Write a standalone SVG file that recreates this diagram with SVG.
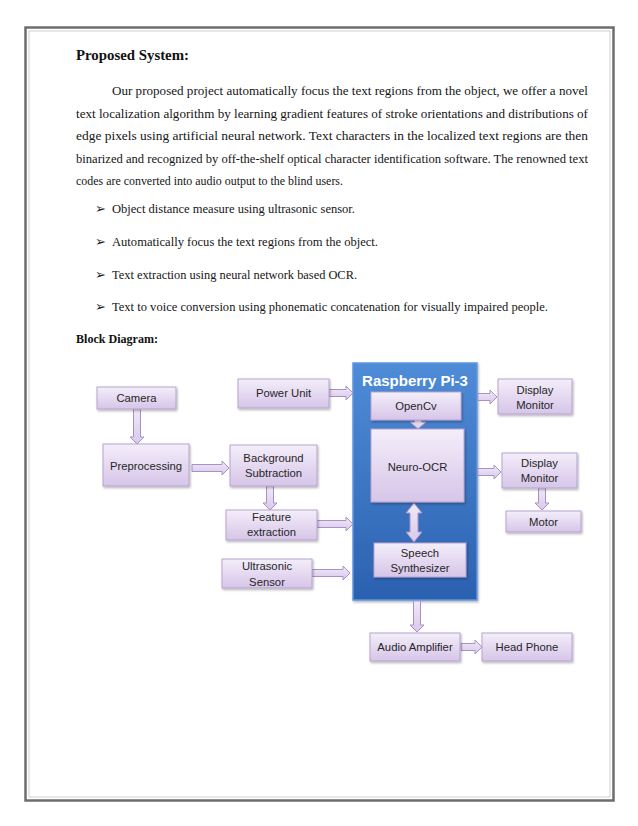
<svg xmlns="http://www.w3.org/2000/svg" width="638" height="826" viewBox="0 0 638 826">
<defs>
<linearGradient id="boxg" x1="0" y1="0" x2="0" y2="1"><stop offset="0" stop-color="#f4eefa"/><stop offset="1" stop-color="#d6c5e8"/></linearGradient>
<linearGradient id="arrg" x1="0" y1="0" x2="0" y2="1"><stop offset="0" stop-color="#f1e9f8"/><stop offset="1" stop-color="#d9c9ea"/></linearGradient>
<linearGradient id="pig" x1="0" y1="0" x2="0" y2="1"><stop offset="0" stop-color="#4f8cd8"/><stop offset="1" stop-color="#2b61b0"/></linearGradient>
<filter id="sh" x="-10%" y="-10%" width="130%" height="140%"><feDropShadow dx="1" dy="1.5" stdDeviation="1" flood-color="#000" flood-opacity="0.3"/></filter>
</defs>
<style>
.txt{font-family:"Liberation Serif","Times New Roman",serif;font-size:13px;fill:#151515}
.hd{font-family:"Liberation Serif","Times New Roman",serif;font-weight:bold;fill:#111}
.bul{font-family:"DejaVu Sans",sans-serif;font-size:13px;fill:#222}
.box{fill:url(#boxg);stroke:#b7a3d1;stroke-width:1;filter:url(#sh)}
.arr{fill:url(#arrg);stroke:#a891c8;stroke-width:1}
.lbl{font-family:"Liberation Sans",Arial,sans-serif;font-size:11.3px;fill:#262626;text-anchor:middle}
.pi{fill:url(#pig);stroke:#5f97de;stroke-width:1.5;filter:url(#sh)}
.pit{font-family:"Liberation Sans",Arial,sans-serif;font-size:15px;font-weight:bold;fill:#fff;text-anchor:middle}
</style>
<rect width="638" height="826" fill="#fff"/>
<rect x="25.5" y="27.5" width="588" height="773" fill="none" stroke="#6d6d6d" stroke-width="2.5"/>
<rect x="29" y="31" width="581" height="766" fill="none" stroke="#c4c4c4" stroke-width="0.8"/>

<g id="text">
<text class="hd" x="76" y="60" font-size="14.5" textLength="113" lengthAdjust="spacingAndGlyphs">Proposed System:</text>
<text class="txt" x="112" y="95" textLength="476" lengthAdjust="spacingAndGlyphs">Our proposed project automatically focus the text regions from the object, we offer a novel</text>
<text class="txt" x="76" y="118" textLength="512" lengthAdjust="spacingAndGlyphs">text localization algorithm by learning gradient features of stroke orientations and distributions of</text>
<text class="txt" x="76" y="140" textLength="512" lengthAdjust="spacingAndGlyphs">edge pixels using artificial neural network. Text characters in the localized text regions are then</text>
<text class="txt" x="76" y="163" textLength="512" lengthAdjust="spacingAndGlyphs">binarized and recognized by off-the-shelf optical character identification software. The renowned text</text>
<text class="txt" x="76" y="185" textLength="267" lengthAdjust="spacingAndGlyphs">codes are converted into audio output to the blind users.</text>
<text class="bul" x="95" y="213">➢</text>
<text class="txt" x="112" y="213" textLength="243" lengthAdjust="spacingAndGlyphs">Object distance measure using ultrasonic sensor.</text>
<text class="bul" x="95" y="246">➢</text>
<text class="txt" x="112" y="246" textLength="266" lengthAdjust="spacingAndGlyphs">Automatically focus the text regions from the object.</text>
<text class="bul" x="95" y="279">➢</text>
<text class="txt" x="112" y="279" textLength="245" lengthAdjust="spacingAndGlyphs">Text extraction using neural network based OCR.</text>
<text class="bul" x="95" y="311">➢</text>
<text class="txt" x="112" y="311" textLength="436" lengthAdjust="spacingAndGlyphs">Text to voice conversion using phonematic concatenation for visually impaired people.</text>
<text class="hd" x="76" y="343" font-size="13.5" textLength="82" lengthAdjust="spacingAndGlyphs">Block Diagram:</text>
</g>

<g id="raspberry-pi">
<rect class="pi" x="353" y="363" width="124" height="237"/>
<text class="pit" x="415" y="386">Raspberry Pi-3</text>
</g>

<g id="connectors">
<path class="arr" d="M329 389.5 H346 V386 L353 393 L346 400 V396.5 H329 Z"/>
<path class="arr" d="M133.5 409 V437 H130 L137 444 L144 437 H140.5 V409 Z"/>
<path class="arr" d="M192 464.5 H222 V461 L229 468 L222 475 V471.5 H192 Z"/>
<path class="arr" d="M266.5 486 V503 H263 L270 510 L277 503 H273.5 V486 Z"/>
<path class="arr" d="M317 520.5 H346 V517 L353 524 L346 531 V527.5 H317 Z"/>
<path class="arr" d="M312 569.5 H343 V566 L350 573 L343 580 V576.5 H312 Z"/>
<path class="arr" d="M414.5 420 V422 H410 L418 429 L426 422 H421.5 V420 Z"/>
<path class="arr" d="M414 503 L422 513 H418 V532 H422 L414 542 L406 532 H410 V513 H406 Z"/>
<path class="arr" d="M478 393.5 H490 V390 L497 397 L490 404 V400.5 H478 Z"/>
<path class="arr" d="M478 468.5 H494 V465 L501 472 L494 479 V475.5 H478 Z"/>
<path class="arr" d="M538.5 488 V503 H535 L542 510 L549 503 H545.5 V488 Z"/>
<path class="arr" d="M413.5 601 V625 H410 L417 632 L424 625 H420.5 V601 Z"/>
<path class="arr" d="M461 643.5 H475 V640 L482 647 L475 654 V650.5 H461 Z"/>
</g>

<g id="camera"><rect class="box" x="97" y="387" width="79" height="22"/><text class="lbl" x="136.5" y="402">Camera</text></g>
<g id="preprocessing"><rect class="box" x="103" y="444" width="86" height="42"/><text class="lbl" x="146" y="470">Preprocessing</text></g>
<g id="power-unit"><rect class="box" x="238" y="379" width="91" height="29"/><text class="lbl" x="283.5" y="397">Power Unit</text></g>
<g id="background-subtraction"><rect class="box" x="230" y="445" width="87" height="41"/><text class="lbl" x="273.5" y="462">Background</text><text class="lbl" x="273.5" y="477">Subtraction</text></g>
<g id="feature-extraction"><rect class="box" x="226" y="510" width="91" height="30"/><text class="lbl" x="271.5" y="521">Feature</text><text class="lbl" x="271.5" y="536">extraction</text></g>
<g id="ultrasonic-sensor"><rect class="box" x="222" y="559" width="90" height="29"/><text class="lbl" x="267" y="570">Ultrasonic</text><text class="lbl" x="267" y="586">Sensor</text></g>
<g id="opencv"><rect class="box" x="371" y="392" width="90" height="28"/><text class="lbl" x="416" y="410">OpenCv</text></g>
<g id="neuro-ocr"><rect class="box" x="371" y="429" width="93" height="73"/><text class="lbl" x="417.5" y="471">Neuro-OCR</text></g>
<g id="speech-synthesizer"><rect class="box" x="374" y="543" width="92" height="34"/><text class="lbl" x="420" y="557">Speech</text><text class="lbl" x="420" y="572">Synthesizer</text></g>
<g id="display-monitor-1"><rect class="box" x="498" y="379" width="74" height="35"/><text class="lbl" x="535" y="394">Display</text><text class="lbl" x="535" y="409">Monitor</text></g>
<g id="display-monitor-2"><rect class="box" x="502" y="453" width="75" height="35"/><text class="lbl" x="539.5" y="467">Display</text><text class="lbl" x="539.5" y="482">Monitor</text></g>
<g id="motor"><rect class="box" x="506" y="511" width="75" height="21"/><text class="lbl" x="543.5" y="526">Motor</text></g>
<g id="audio-amplifier"><rect class="box" x="370" y="633" width="90" height="28"/><text class="lbl" x="415" y="651">Audio Amplifier</text></g>
<g id="head-phone"><rect class="box" x="482" y="633" width="90" height="28"/><text class="lbl" x="527" y="651">Head Phone</text></g>
</svg>
